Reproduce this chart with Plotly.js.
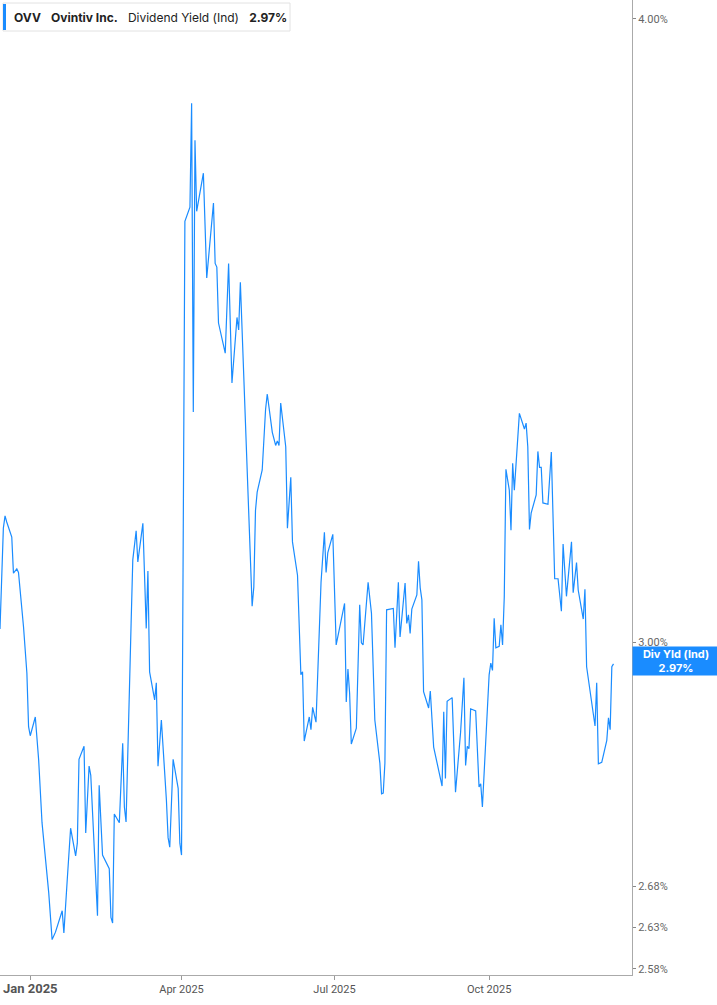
<!DOCTYPE html>
<html>
<head>
<meta charset="utf-8">
<script src="https://cdn.plot.ly/plotly-3.0.1.min.js"></script>
<style>
html,body{margin:0;padding:0;background:#fff;}
#chart{width:717px;height:1005px;}
</style>
</head>
<body>
<div id="chart"></div>
<script>
const dates = [
"2024-12-14","2024-12-15","2024-12-16","2024-12-17","2024-12-18","2024-12-21","2024-12-22","2024-12-24","2024-12-25","2024-12-28",
"2024-12-30","2024-12-31","2025-01-01","2025-01-04","2025-01-06","2025-01-08","2025-01-12","2025-01-14","2025-01-16","2025-01-20",
"2025-01-21","2025-01-23","2025-01-25","2025-01-28","2025-01-29","2025-01-30","2025-02-02","2025-02-03","2025-02-05","2025-02-06",
"2025-02-10","2025-02-11","2025-02-13","2025-02-17","2025-02-18","2025-02-19","2025-02-20","2025-02-23","2025-02-25","2025-02-26",
"2025-02-27","2025-03-02","2025-03-03","2025-03-05","2025-03-06","2025-03-09","2025-03-11","2025-03-12","2025-03-13","2025-03-16",
"2025-03-17","2025-03-18","2025-03-20","2025-03-23","2025-03-24","2025-03-25","2025-03-27","2025-03-30","2025-03-31","2025-04-01",
"2025-04-03","2025-04-06","2025-04-07","2025-04-08","2025-04-09","2025-04-10","2025-04-13","2025-04-14","2025-04-16","2025-04-20",
"2025-04-21","2025-04-22","2025-04-23","2025-04-27","2025-04-29","2025-05-01","2025-05-04","2025-05-05","2025-05-06","2025-05-08",
"2025-05-09","2025-05-11","2025-05-13","2025-05-14","2025-05-15","2025-05-16","2025-05-19","2025-05-21","2025-05-22","2025-05-25",
"2025-05-27","2025-05-28","2025-05-29","2025-05-30","2025-06-02","2025-06-03","2025-06-05","2025-06-06","2025-06-09","2025-06-11",
"2025-06-12","2025-06-13","2025-06-16","2025-06-17","2025-06-18","2025-06-20","2025-06-23","2025-06-25","2025-06-26","2025-06-27",
"2025-06-30","2025-07-02","2025-07-07","2025-07-08","2025-07-09","2025-07-10","2025-07-11","2025-07-14","2025-07-16","2025-07-17",
"2025-07-18","2025-07-21","2025-07-23","2025-07-25","2025-07-28","2025-07-29","2025-07-30","2025-07-31","2025-08-01","2025-08-05",
"2025-08-06","2025-08-08","2025-08-09","2025-08-12","2025-08-13","2025-08-14","2025-08-15","2025-08-16","2025-08-19","2025-08-20",
"2025-08-21","2025-08-22","2025-08-23","2025-08-26","2025-08-27","2025-08-29","2025-09-03","2025-09-04","2025-09-05","2025-09-06",
"2025-09-09","2025-09-11","2025-09-14","2025-09-16","2025-09-17","2025-09-18","2025-09-19","2025-09-20","2025-09-23","2025-09-25",
"2025-09-26","2025-09-27","2025-09-29","2025-10-01","2025-10-02","2025-10-03","2025-10-04","2025-10-05","2025-10-07","2025-10-08",
"2025-10-09","2025-10-10","2025-10-11","2025-10-13","2025-10-14","2025-10-15","2025-10-16","2025-10-18","2025-10-19","2025-10-22",
"2025-10-23","2025-10-24","2025-10-25","2025-10-26","2025-10-29","2025-10-30","2025-10-31","2025-11-01","2025-11-02","2025-11-05",
"2025-11-07","2025-11-09","2025-11-11","2025-11-13","2025-11-14","2025-11-16","2025-11-19","2025-11-20","2025-11-22","2025-11-23",
"2025-11-26","2025-11-27","2025-11-28","2025-12-03","2025-12-04","2025-12-05","2025-12-07","2025-12-10","2025-12-11","2025-12-12",
"2025-12-13","2025-12-14"
];
const divYield = [
3.018,3.077,3.162,3.180,3.171,3.149,3.097,3.103,3.098,3.021,
2.957,2.885,2.873,2.898,2.841,2.760,2.672,2.615,2.624,2.650,
2.623,2.688,2.753,2.718,2.734,2.842,2.859,2.747,2.833,2.821,
2.644,2.808,2.719,2.702,2.642,2.635,2.771,2.760,2.863,2.780,
2.761,3.026,3.116,3.158,3.113,3.169,3.019,3.100,2.959,2.921,
2.944,2.833,2.894,2.789,2.741,2.729,2.842,2.804,2.734,2.719,
3.643,3.667,3.847,3.336,3.782,3.660,3.713,3.725,3.549,3.674,
3.573,3.567,3.476,3.428,3.573,3.381,3.485,3.465,3.542,3.386,
3.308,3.184,3.050,3.077,3.188,3.215,3.248,3.340,3.364,3.305,
3.285,3.292,3.285,3.350,3.283,3.162,3.237,3.142,3.094,2.955,
2.959,2.866,2.898,2.881,2.911,2.891,3.084,3.156,3.098,3.126,
3.153,2.996,3.054,2.918,2.963,2.930,2.862,2.883,3.052,2.999,
2.996,3.084,3.040,2.894,2.837,2.797,2.798,2.837,3.045,3.047,
2.992,3.084,3.007,3.083,3.026,3.038,3.012,3.046,3.066,3.114,
3.076,3.059,2.932,2.910,2.933,2.858,2.807,2.905,2.817,2.919,
2.924,2.799,2.877,2.951,2.834,2.859,2.856,2.909,2.906,2.806,
2.810,2.780,2.871,2.955,2.971,2.961,3.033,2.992,2.994,3.024,
2.996,3.063,3.249,3.218,3.159,3.258,3.218,3.293,3.334,3.310,
3.319,3.283,3.160,3.184,3.211,3.276,3.252,3.252,3.199,3.197,
3.275,3.089,3.089,3.043,3.139,3.064,3.142,3.069,3.112,3.073,
3.032,3.074,2.966,2.886,2.944,2.836,2.838,2.867,2.897,2.881,
2.966,2.970
];
const yTickVals = [2.58, 2.63, 2.68, 3.00, 4.00];
const yTickText = ["2.58%", "2.63%", "2.68%", "3.00%", "4.00%"];
const xTickVals = ["2025-01-01", "2025-04-01", "2025-07-01", "2025-10-01"];
const xTickText = ["<span style=\"font-size:13px\"><b>Jan 2025</b></span>", "Apr 2025", "Jul 2025", "Oct 2025"];
const lastValue = 2.97;

const W = 632, H = 975;
const px = v => v / W;
const py = v => 1 - v / H;

const trace = {
  x: dates, y: divYield, type: 'scatter', mode: 'lines',
  line: {color: '#1a8cff', width: 1.2}, hoverinfo: 'skip'
};

const layout = {
  width: 717, height: 1005,
  margin: {l: 0, r: 85, t: 0, b: 30, pad: 0},
  paper_bgcolor: '#ffffff', plot_bgcolor: '#ffffff',
  showlegend: false,
  font: {family: 'Roboto, "Liberation Sans", Arial, sans-serif', color: '#555', size: 11},
  xaxis: {
    type: 'date', range: ['2024-12-14', '2025-12-25'],
    tickvals: xTickVals, ticktext: xTickText,
    showgrid: false, zeroline: false,
    showline: true, linecolor: '#aaaaaa', linewidth: 1,
    ticks: 'outside', ticklen: 4, tickcolor: '#999', tickwidth: 1,
    tickfont: {size: 11, color: '#555'}
  },
  yaxis: {
    type: 'log', side: 'right',
    range: [Math.log10(2.5726), Math.log10(4.035)],
    tickvals: yTickVals, ticktext: yTickText,
    showgrid: false, zeroline: false,
    showline: true, linecolor: '#aaaaaa', linewidth: 1,
    ticks: 'outside', ticklen: 3, tickcolor: '#888', tickwidth: 1,
    tickfont: {size: 11, color: '#666'}
  },
  shapes: [
    {type: 'rect', xref: 'paper', yref: 'paper', x0: px(3), x1: px(290), y0: py(31), y1: py(3),
     line: {color: '#e2e2e2', width: 1}, fillcolor: '#ffffff', layer: 'above'},
    {type: 'rect', xref: 'paper', yref: 'paper', x0: px(3), x1: px(6), y0: py(30), y1: py(4),
     line: {width: 0}, fillcolor: '#1a8cff', layer: 'above'}
  ],
  annotations: [
    {xref: 'paper', yref: 'paper', x: px(12), y: py(17), xanchor: 'left', yanchor: 'middle',
     showarrow: false, align: 'left',
     text: '<b>OVV</b>   <b>Ovintiv Inc.</b>   Dividend Yield (Ind)   <b>' + lastValue.toFixed(2) + '%</b>',
     font: {size: 12, color: '#222', family: 'Inter, Roboto, sans-serif'}},
    {xref: 'paper', yref: 'y', x: 1, y: Math.log10(lastValue), xanchor: 'left', yanchor: 'middle',
     xshift: 0, yshift: 3, showarrow: false, align: 'center',
     text: '<b>Div Yld (Ind)<br>' + lastValue.toFixed(2) + '%</b>',
     bgcolor: '#1a8cff', borderpad: 1, width: 84, height: 26,
     font: {size: 11, color: '#ffffff', family: 'Inter, Roboto, sans-serif'}}
  ]
};

Plotly.newPlot('chart', [trace], layout, {staticPlot: true, displayModeBar: false});
</script>
</body>
</html>
